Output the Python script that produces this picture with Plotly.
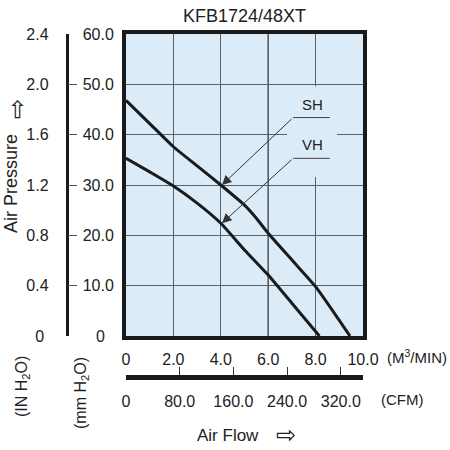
import plotly.graph_objects as go

# ---------------- data ----------------
chart_title = "KFB1724/48XT"

flow_ticks = [0, 2, 4, 6, 8, 10]
flow_labels = ["0", "2.0", "4.0", "6.0", "8.0", "10.0"]

mm_ticks = [0, 10, 20, 30, 40, 50, 60]
mm_labels = ["0\u00a0\u00a0", "10.0", "20.0", "30.0", "40.0", "50.0", "60.0"]

in_ticks = [0, 0.4, 0.8, 1.2, 1.6, 2.0, 2.4]
in_labels = ["0\u00a0", "0.4", "0.8", "1.2", "1.6", "2.0", "2.4"]

cfm_ticks = [0, 80, 160, 240, 320]
cfm_labels = ["0", "80.0", "160.0", "240.0", "320.0"]
cfm_max = 353.15  # 10 m3/min in CFM

sh_flow = [0, 1, 2, 3, 4, 5, 5.5, 6, 7, 8, 9, 9.45]
sh_pressure = [46.8, 42.2, 37.6, 33.8, 30.0, 26.0, 23.4, 20.4, 15.1, 9.8, 3.1, 0]

vh_flow = [0, 1, 2, 3, 4, 5, 6, 7, 8.16]
vh_pressure = [35.3, 32.6, 29.8, 26.4, 22.4, 17.1, 12.1, 6.5, 0]

# ---------------- helpers ----------------
W = H = 450
def fx(px):
    return px / W
def fy(py):
    return 1 - py / H

FONT = "Liberation Sans, Arial, sans-serif"
BG = "#DCEBF8"
GRID = "#56626b"
INK = "#1a1a1a"

fig = go.Figure()

fig.add_trace(go.Scatter(x=sh_flow, y=sh_pressure, mode="lines",
                         line=dict(color=INK, width=3, shape="spline", smoothing=0.5),
                         showlegend=False, hoverinfo="skip"))
fig.add_trace(go.Scatter(x=vh_flow, y=vh_pressure, mode="lines",
                         line=dict(color=INK, width=3, shape="spline", smoothing=0.5),
                         showlegend=False, hoverinfo="skip"))

# dummy traces to register secondary axes
for xa, ya in [("x", "y2"), ("x", "y3"), ("x2", "y"), ("x3", "y")]:
    fig.add_trace(go.Scatter(x=[None], y=[None], xaxis=xa, yaxis=ya, mode="lines",
                             showlegend=False, hoverinfo="skip"))

tickfont = dict(family=FONT, size=16, color="#222")

fig.update_layout(
    width=W, height=H, autosize=False,
    margin=dict(l=0, r=0, t=0, b=0, pad=0, autoexpand=False),
    showlegend=False,
    paper_bgcolor="white", plot_bgcolor=BG,
    font=dict(family=FONT, color="#222"),
    xaxis=dict(domain=[fx(126), fx(363)], range=[0, 10], automargin=False,
               tickvals=flow_ticks, ticktext=flow_labels, ticks="",
               showgrid=True, gridcolor=GRID, gridwidth=1, zeroline=False,
               showline=True, mirror=True, linewidth=4, linecolor=INK,
               tickfont=tickfont, ticklabelstandoff=6),
    yaxis=dict(domain=[fy(336), fy(34)], range=[0, 60], automargin=False,
               tickvals=mm_ticks, ticktext=mm_labels, ticks="",
               showgrid=True, gridcolor=GRID, gridwidth=1, zeroline=False,
               showline=True, mirror=True, linewidth=4, linecolor=INK,
               tickfont=tickfont, ticklabelstandoff=5),
    yaxis2=dict(overlaying="y", anchor="free", position=fx(66.5), side="left",
                range=[0, 2.4], tickvals=in_ticks, ticktext=in_labels, automargin=False,
                ticks="inside", ticklen=9, tickwidth=1, tickcolor="#555",
                showgrid=False, zeroline=False, showline=True, linewidth=2.5,
                linecolor=INK, tickfont=tickfont, ticklabelstandoff=14),
    yaxis3=dict(overlaying="y", anchor="free", position=fx(66.5), side="left",
                range=[0, 2.4], tickvals=[0, 2.4], ticks="inside", ticklen=10,
                tickwidth=3, tickcolor=INK, showticklabels=False, automargin=False,
                showgrid=False, zeroline=False, showline=False),
    xaxis2=dict(overlaying="x", anchor="free", position=fy(377), side="bottom",
                range=[0, cfm_max], tickvals=cfm_ticks, ticktext=cfm_labels,
                ticks="inside", ticklen=8, tickwidth=1, tickcolor="#333", automargin=False,
                showgrid=False, zeroline=False, showline=True, linewidth=5,
                linecolor=INK, tickfont=tickfont, ticklabelstandoff=8),
    xaxis3=dict(overlaying="x", anchor="free", position=fy(377), side="bottom",
                range=[0, cfm_max], tickvals=[0], ticks="inside", ticklen=10,
                tickwidth=4, tickcolor=INK, showticklabels=False, automargin=False,
                showgrid=False, zeroline=False, showline=False),
)

# grid gaps behind the labels, and the darker 6.0 line
fig.add_shape(type="rect", xref="x", yref="y", x0=6.8, x1=8.9, y0=39.5, y1=40.5,
              fillcolor=BG, line=dict(width=0), layer="between")
fig.add_shape(type="rect", xref="x", yref="y", x0=7.9, x1=8.1, y0=31.6, y1=49.6,
              fillcolor=BG, line=dict(width=0), layer="between")
fig.add_shape(type="line", xref="x", yref="paper", x0=6, x1=6, y0=fy(336), y1=fy(34),
              line=dict(color="#111", width=1.2), layer="between")

# leader lines
fig.add_shape(type="line", xref="x", yref="y", x0=7.05, x1=8.6, y0=43.4, y1=43.4,
              line=dict(color="#444", width=1))
fig.add_shape(type="line", xref="x", yref="y", x0=7.05, x1=8.6, y0=35.3, y1=35.3,
              line=dict(color="#444", width=1))

fig.add_annotation(x=4.05, y=30.0, ax=7.05, ay=43.4, axref="x", ayref="y",
                   xref="x", yref="y", text="", showarrow=True,
                   arrowhead=2, arrowsize=1.9, arrowwidth=1, arrowcolor="#333")
fig.add_annotation(x=4.05, y=22.4, ax=7.05, ay=35.3, axref="x", ayref="y",
                   xref="x", yref="y", text="", showarrow=True,
                   arrowhead=2, arrowsize=1.9, arrowwidth=1, arrowcolor="#333")
fig.add_annotation(x=7.85, y=45.9, xref="x", yref="y", text="SH", showarrow=False,
                   font=dict(family=FONT, size=15, color="#222"))
fig.add_annotation(x=7.85, y=38.0, xref="x", yref="y", text="VH", showarrow=False,
                   font=dict(family=FONT, size=15, color="#222"))

def label(text, px, py, size=15, angle=0, family=FONT, xanchor="center"):
    fig.add_annotation(x=fx(px), y=fy(py), xref="paper", yref="paper", text=text,
                       showarrow=False, textangle=angle, xanchor=xanchor, yanchor="middle",
                       font=dict(family=family, size=size, color="#222"))

label(chart_title, 244.5, 15.5, size=18)
label("(M<sup>3</sup>/MIN)", 417, 356, size=15)
label("(CFM)", 402, 399, size=15)
label("Air Flow", 228, 435, size=17)
label("\u21e8", 286, 434, size=24)
label("Air Pressure", 11, 184, size=18, angle=-90)
label("\u21e8", 0, 109, size=24, angle=-90, xanchor="left")
label("(IN H<sub>2</sub>O)", 22, 387, size=16, angle=-90)
label("(mm H<sub>2</sub>O)", 81, 393, size=16, angle=-90)

fig.write_html("out.html")
